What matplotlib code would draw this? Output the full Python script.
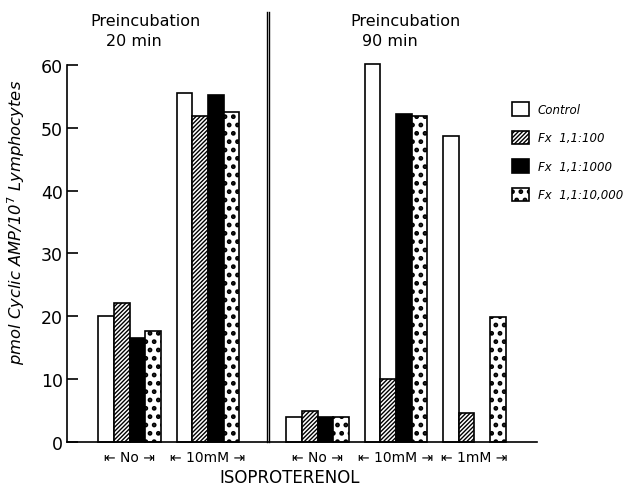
import matplotlib
matplotlib.use("Agg")
import matplotlib.pyplot as plt
import numpy as np
from matplotlib.patches import Patch

# ---- data ----
group_labels = ["No", "10mM", "No", "10mM", "1mM"]
control = [20.0, 55.6, 4.0, 60.1, 48.7]
fx_100 = [22.1, 51.8, 4.9, 10.0, 4.6]
fx_1000 = [16.5, 55.2, 3.9, 52.2, np.nan]
fx_10000 = [17.6, 52.5, 3.9, 51.9, 19.9]
series_names = ["Control", "Fx  1,1:100", "Fx  1,1:1000", "Fx  1,1:10,000"]
yticks = [0, 10, 20, 30, 40, 50, 60]

plt.rcParams['font.family'] = ['DejaVu Sans']

fig = plt.figure(figsize=(6.23, 4.89), dpi=100)
ax = fig.add_axes([67/623, 46.3/489, 470/623, 376.7/489])

centers = np.array([0, 5, 12, 17, 22], dtype=float)
w = 1.0
offsets = [-1.5, -0.5, 0.5, 1.5]
styles = [
    dict(facecolor="white", edgecolor="black", hatch=None),
    dict(facecolor="white", edgecolor="black", hatch="////////"),
    dict(facecolor="black", edgecolor="black", hatch=None),
    dict(facecolor="white", edgecolor="black", hatch=".."),
]
hatch_lw = [1.0, 1.0, 1.0, 2.2]
all_series = [control, fx_100, fx_1000, fx_10000]
handles = []
for vals, off, st, hlw in zip(all_series, offsets, styles, hatch_lw):
    plt.rcParams['hatch.linewidth'] = hlw
    bars = ax.bar(centers + off * w, vals, width=w, linewidth=1.2, **st)
    for b in bars:
        b.set_clip_on(False)
    handles.append(Patch(linewidth=1.2, **st))
plt.rcParams['hatch.linewidth'] = 1.0

ax.set_xlim(-4, 26)
ax.set_ylim(0, 60)
ax.set_yticks(yticks)
ax.tick_params(axis='y', direction='in', length=8, width=1.2, labelsize=12.5, pad=3)
ax.set_xticks(centers)
ax.set_xticklabels(["\u21e4 " + g + " \u21e5" for g in group_labels], fontsize=10)
ax.tick_params(axis='x', length=0, pad=6)
for s in ["top", "right"]:
    ax.spines[s].set_visible(False)
ax.spines["left"].set_linewidth(1.2)
ax.spines["bottom"].set_linewidth(1.2)

# double separator line
for xs in (8.77, 8.92):
    ax.plot([xs, xs], [0, 68.5], color="black", lw=1.0, clip_on=False)

ax.set_ylabel("pmol Cyclic AMP/10$^7$ Lymphocytes", fontstyle="italic", fontsize=11.8)
ax.yaxis.set_label_coords(-0.085, 0.586)

fig.text(146/623, 1 - 22/489, "Preincubation", ha="center", va="center", fontsize=11.5)
fig.text(134/623, 1 - 42/489, "20 min", ha="center", va="center", fontsize=11.5)
fig.text(406/623, 1 - 22/489, "Preincubation", ha="center", va="center", fontsize=11.5)
fig.text(390/623, 1 - 42/489, "90 min", ha="center", va="center", fontsize=11.5)
fig.text(290/623, 1 - 478/489, "ISOPROTERENOL", ha="center", va="center", fontsize=12)

leg = fig.legend(handles, series_names, loc="upper left",
                 bbox_to_anchor=(512/623, 1 - 103/489), frameon=False,
                 prop=dict(style="italic", size=8.5), handlelength=1.4,
                 handleheight=1.4, labelspacing=1.25, handletextpad=0.8,
                 borderpad=0, borderaxespad=0)
for p, hlw in zip(leg.get_patches(), hatch_lw):
    p._hatch_linewidth = hlw

fig.savefig("out.png", dpi=100)
